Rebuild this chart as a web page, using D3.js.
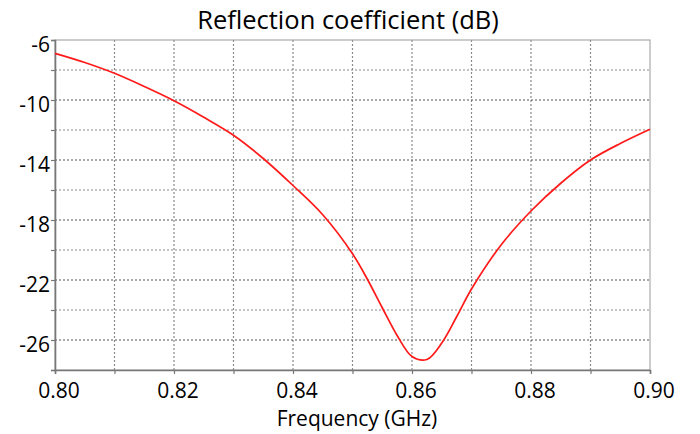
<!DOCTYPE html>
<html>
<head>
<meta charset="utf-8">
<title>Reflection coefficient</title>
<style>
  body { margin: 0; background: #fff; }
  text { font-family: "Open Sans", "Noto Sans", sans-serif; fill: #000; }
  .grid line { stroke-dasharray: 2,2; }
</style>
</head>
<body>
<svg width="700" height="434"></svg>
<script src="https://d3js.org/d3.v7.min.js"></script>
<script>
// curve (GHz, dB)
var freq = [0.800, 0.805, 0.810, 0.815, 0.820, 0.825, 0.830, 0.835, 0.840, 0.845,
            0.850, 0.8525, 0.855, 0.8575, 0.860, 0.8625, 0.865, 0.8675, 0.870, 0.875,
            0.880, 0.885, 0.890, 0.895, 0.900];
var s11  = [-6.89, -7.5, -8.22, -9.1, -10.05, -11.15, -12.35, -13.9, -15.7, -17.65,
            -20.25, -21.95, -23.85, -25.7, -27.1, -27.3, -26.2, -24.45, -22.6, -19.65,
            -17.4, -15.55, -14.0, -12.9, -11.95];

var xTicks = [0.80, 0.81, 0.82, 0.83, 0.84, 0.85, 0.86, 0.87, 0.88, 0.89, 0.90];
var xLabels = [0.80, 0.82, 0.84, 0.86, 0.88, 0.90];
var yTicks = [-28, -26, -24, -22, -20, -18, -16, -14, -12, -10, -8, -6];
var yLabels = [-26, -22, -18, -14, -10, -6];

var svg = d3.select("svg");
var pLeft = 55, pRight = 650, pTop = 40, pBottom = 370;

var x = d3.scaleLinear().domain([0.80, 0.90]).range([pLeft, pRight]);
var y = d3.scaleLinear().domain([-28, -6]).range([pBottom, pTop]);

// grid
var grid = svg.append("g").attr("class", "grid");
grid.selectAll(".v").data(xTicks.slice(1, -1)).enter().append("line")
    .attr("x1", d => x(d)).attr("x2", d => x(d))
    .attr("y1", pTop).attr("y2", pBottom)
    .attr("stroke", "#8a8a8a").attr("stroke-width", 1.2);
grid.selectAll(".h").data(yTicks.slice(1, -1)).enter().append("line")
    .attr("x1", pLeft).attr("x2", pRight)
    .attr("y1", d => y(d)).attr("y2", d => y(d))
    .attr("stroke", d => yLabels.indexOf(d) >= 0 ? "#555" : "#8a8a8a")
    .attr("stroke-width", 1.2);

// frame
svg.append("rect")
    .attr("x", pLeft).attr("y", pTop)
    .attr("width", pRight - pLeft).attr("height", pBottom - pTop)
    .attr("fill", "none").attr("stroke", "#999");

// axes
var xAxis = svg.append("g").attr("transform", "translate(0," + pBottom + ")")
    .call(d3.axisBottom(x).tickValues(xTicks).tickSize(4).tickFormat(""));
var yAxis = svg.append("g").attr("transform", "translate(" + pLeft + ",0)")
    .call(d3.axisLeft(y).tickValues(yTicks).tickSize(4).tickFormat(""));
[xAxis, yAxis].forEach(function (a) {
  a.select(".domain").attr("stroke", "#777").attr("stroke-width", 1.6);
  a.selectAll(".tick line").attr("stroke", "#777").attr("stroke-width", 1.2);
});

svg.selectAll(".xl").data(xLabels).enter().append("text")
    .attr("x", d => x(d) + 4).attr("y", 398)
    .attr("text-anchor", "middle").style("font-size", "21px")
    .text(d => d.toFixed(2));
svg.selectAll(".yl").data(yLabels).enter().append("text")
    .attr("x", 50).attr("y", d => y(d) + 12)
    .attr("text-anchor", "end").style("font-size", "21px")
    .text(d => d);

// curve
var line = d3.line()
    .x((d, i) => x(freq[i]))
    .y(d => y(d))
    .curve(d3.curveCatmullRom.alpha(0.5));
svg.append("path")
    .datum(s11)
    .attr("d", line)
    .attr("fill", "none")
    .attr("stroke", "#ff1a1a")
    .attr("stroke-width", 1.7);

// titles
svg.append("text")
    .attr("x", 348).attr("y", 29)
    .attr("text-anchor", "middle").style("font-size", "25.5px")
    .text("Reflection coefficient (dB)");
svg.append("text")
    .attr("x", 357).attr("y", 426)
    .attr("text-anchor", "middle").style("font-size", "21px")
    .text("Frequency (GHz)");
</script>
</body>
</html>
